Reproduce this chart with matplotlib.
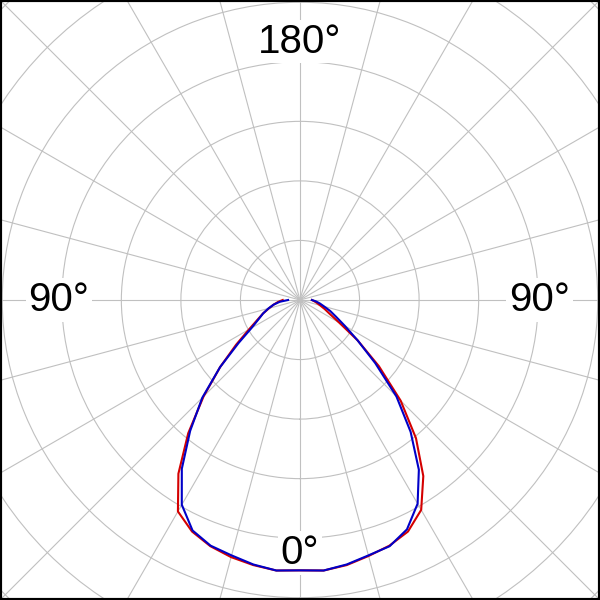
import numpy as np
import matplotlib
matplotlib.use("Agg")
from matplotlib import pyplot as plt
from matplotlib.patches import Rectangle

# gamma angles (0 = straight down), intensity in ring units (one ring = 100)
gamma = list(range(0, 95, 5))
red_left = [454, 456, 452, 447, 440, 429, 410, 356, 292, 229, 175, 131, 99, 79, 66, 54, 45, 37, 29]
red_right = [454, 456, 452, 445, 439, 429, 407, 361, 303, 239, 173, 118, 76, 55, 44, 35, 29, 24, 20]
blue_left = [454, 456, 451, 444, 439, 427, 397, 346, 287, 232, 175, 126, 94, 77, 66, 55, 45, 34, 20]
blue_right = [454, 456, 451, 444, 440, 425, 395, 348, 289, 229, 165, 118, 87, 67, 54, 42, 34, 27, 20]

labels = ["0°", "90°", "180°", "90°"]
label_theta = [0, 90, 180, -90]
label_r = [425, 402, 434, 405]

ring_step = 100
r_max = 712


def full_curve(left, right):
    g = np.array(gamma, dtype=float)
    theta = np.concatenate([-g[::-1], g[1:]])
    r = np.concatenate([np.array(left)[::-1], np.array(right)[1:]])
    return np.radians(theta), r


fig = plt.figure(figsize=(6, 6), dpi=100)
# polar axes larger than figure so the rings get clipped by the square frame
off = 124 / 600
ax = fig.add_axes([-off, -off, 1 + 2 * off, 1 + 2 * off], projection="polar")
ax.set_theta_zero_location("S")
ax.set_ylim(0, r_max)
ax.set_rgrids(np.arange(ring_step, r_max, ring_step), labels=[])
ax.set_thetagrids(np.arange(0, 360, 15), labels=[])
ax.grid(True, color="#c0c0c0", linewidth=0.8)
ax.spines["polar"].set_visible(False)
ax.tick_params(length=0)

for i, txt in enumerate(labels):
    ax.text(np.radians(label_theta[i]), label_r[i], txt, fontsize=29,
            family="Liberation Sans", ha="center", va="center", zorder=3,
            bbox=dict(facecolor="white", edgecolor="none", pad=2))

th, r = full_curve(red_left, red_right)
ax.plot(th, r, color="#d40000", linewidth=1.5, zorder=4)
th, r = full_curve(blue_left, blue_right)
ax.plot(th, r, color="#0000c8", linewidth=1.5, zorder=5)

fig.patches.append(Rectangle((0, 0), 1, 1, transform=fig.transFigure,
                             fill=False, edgecolor="black", linewidth=3))

fig.savefig("out.png", dpi=100)
